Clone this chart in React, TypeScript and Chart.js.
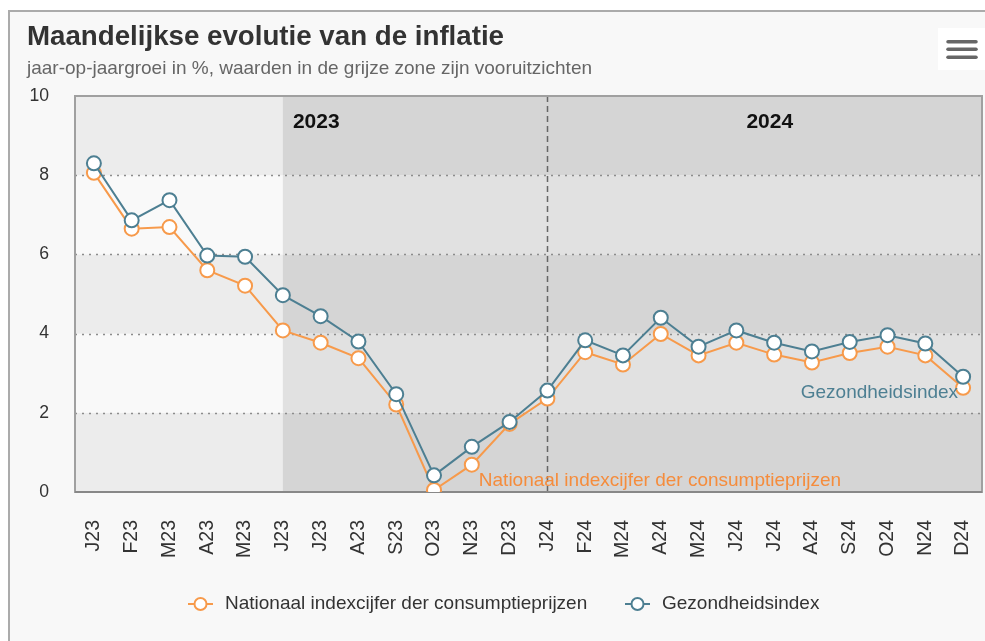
import React, { useEffect, useRef } from "react";
import { Chart, registerables } from "chart.js";

Chart.register(...registerables);

const categories = ["J23", "F23", "M23", "A23", "M23", "J23", "J23", "A23", "S23", "O23", "N23", "D23", "J24", "F24", "M24", "A24", "M24", "J24", "J24", "A24", "S24", "O24", "N24", "D24"];
const nationaalIndex = [8.06, 6.65, 6.69, 5.6, 5.21, 4.08, 3.77, 3.38, 2.21, 0.05, 0.69, 1.72, 2.36, 3.53, 3.22, 3.99, 3.45, 3.77, 3.47, 3.27, 3.51, 3.67, 3.45, 2.63];
const gezondheidsIndex = [8.3, 6.86, 7.37, 5.97, 5.94, 4.97, 4.44, 3.8, 2.47, 0.42, 1.14, 1.77, 2.56, 3.83, 3.45, 4.4, 3.67, 4.08, 3.77, 3.55, 3.79, 3.96, 3.75, 2.91];
const yTickValues = [0, 2, 4, 6, 8, 10];
const yearLabels = ["2023", "2024"];
const forecastStartIndex = 5;
const yearBreakIndex = 12;
const seriesNames = ["Nationaal indexcijfer der consumptieprijzen", "Gezondheidsindex"];
const titleText = "Maandelijkse evolutie van de inflatie";
const subtitleText = "jaar-op-jaargroei in %, waarden in de grijze zone zijn vooruitzichten";

const FONT = '"Liberation Sans", Arial, Helvetica, sans-serif';
const ORANGE = "#f79a4b";
const BLUE = "#4d7f92";

const decor = {
  id: "decor",
  beforeDraw(chart: any) {
    const { ctx, width, height } = chart;
    ctx.save();
    ctx.fillStyle = "#f8f8f8";
    ctx.fillRect(0, 0, width, height);
    ctx.restore();
  },
  beforeDatasetsDraw(chart: any) {
    const { ctx, chartArea: a, scales } = chart;
    const x = scales.x;
    const y = scales.y;
    const split = x.getPixelForValue(forecastStartIndex);
    ctx.save();
    for (let k = 0; k < 5; k++) {
      const lo = k * 2;
      const hi = lo + 2;
      const yTop = y.getPixelForValue(hi);
      const yBot = y.getPixelForValue(lo);
      const dark = k % 2 === 0;
      ctx.fillStyle = dark ? "#ececec" : "#f9f9f9";
      ctx.fillRect(a.left, yTop, split - a.left, yBot - yTop);
      ctx.fillStyle = dark ? "#d5d5d5" : "#e1e1e1";
      ctx.fillRect(split, yTop, a.right - split, yBot - yTop);
    }
    // dotted grid lines
    ctx.strokeStyle = "#8c8c8c";
    ctx.lineWidth = 1.5;
    ctx.setLineDash([2, 5]);
    for (const v of [2, 4, 6, 8]) {
      const py = Math.round(y.getPixelForValue(v)) + 0.5;
      ctx.beginPath();
      ctx.moveTo(a.left, py);
      ctx.lineTo(a.right, py);
      ctx.stroke();
    }
    // dashed year separator
    ctx.strokeStyle = "#666666";
    ctx.lineWidth = 1.5;
    ctx.setLineDash([6, 4]);
    const vx = Math.round(x.getPixelForValue(yearBreakIndex)) + 0.5;
    ctx.beginPath();
    ctx.moveTo(vx, a.top);
    ctx.lineTo(vx, a.bottom);
    ctx.stroke();
    ctx.setLineDash([]);
    // plot border
    ctx.strokeStyle = "#a0a0a0";
    ctx.lineWidth = 2;
    ctx.strokeRect(a.left, a.top, a.right - a.left, a.bottom - a.top);
    ctx.strokeStyle = "#888888";
    ctx.beginPath();
    ctx.moveTo(a.left, a.bottom);
    ctx.lineTo(a.right, a.bottom);
    ctx.stroke();
    // year labels
    ctx.fillStyle = "#111111";
    ctx.font = "bold 21px " + FONT;
    ctx.textAlign = "center";
    ctx.textBaseline = "middle";
    const c1 = (a.left + vx) / 2 + 5;
    const c2 = (vx + a.right) / 2 + 5;
    ctx.fillText(yearLabels[0], c1, a.top + 26);
    ctx.fillText(yearLabels[1], c2, a.top + 26);
    ctx.restore();
  },
  afterDatasetsDraw(chart: any) {
    const { ctx, scales } = chart;
    const x = scales.x;
    const y = scales.y;
    ctx.save();
    ctx.font = "19px " + FONT;
    ctx.textBaseline = "middle";
    ctx.fillStyle = BLUE;
    ctx.textAlign = "right";
    ctx.fillText(seriesNames[1], x.getPixelForValue(23) - 5, y.getPixelForValue(2.51));
    ctx.fillStyle = "#f58c3c";
    ctx.textAlign = "left";
    ctx.fillText(seriesNames[0], x.getPixelForValue(10) + 7, y.getPixelForValue(0.29));
    ctx.restore();
  },
  afterDraw(chart: any) {
    const { ctx } = chart;
    ctx.save();
    // title
    ctx.fillStyle = "#333333";
    ctx.font = "bold 27.7px " + FONT;
    ctx.textAlign = "left";
    ctx.textBaseline = "alphabetic";
    ctx.fillText(titleText, 17, 33);
    ctx.fillStyle = "#666666";
    ctx.font = "19px " + FONT;
    ctx.fillText(subtitleText, 17, 62);
    // legend
    const ly = 592;
    const items = [
      { color: ORANGE, x0: 178, text: seriesNames[0] },
      { color: BLUE, x0: 615, text: seriesNames[1] },
    ];
    for (const it of items) {
      ctx.strokeStyle = it.color;
      ctx.lineWidth = 2;
      ctx.beginPath();
      ctx.moveTo(it.x0, ly);
      ctx.lineTo(it.x0 + 25, ly);
      ctx.stroke();
      ctx.beginPath();
      ctx.arc(it.x0 + 12.5, ly, 6, 0, Math.PI * 2);
      ctx.fillStyle = "#ffffff";
      ctx.fill();
      ctx.stroke();
      ctx.fillStyle = "#333333";
      ctx.font = "19px " + FONT;
      ctx.textBaseline = "middle";
      ctx.fillText(it.text, it.x0 + 37, ly);
    }
    // menu button
    ctx.fillStyle = "#ffffff";
    ctx.fillRect(928, 16, 60, 42);
    ctx.strokeStyle = "#666666";
    ctx.lineWidth = 3.5;
    ctx.lineCap = "round";
    for (const yy of [29.7, 37.3, 45.3]) {
      ctx.beginPath();
      ctx.moveTo(938, yy);
      ctx.lineTo(966, yy);
      ctx.stroke();
    }
    ctx.restore();
  },
};

export default function App() {
  const ref = useRef<HTMLCanvasElement | null>(null);
  useEffect(() => {
    if (!ref.current) return;
    const chart = new Chart(ref.current, {
      type: "line",
      data: {
        labels: categories,
        datasets: [
          {
            label: seriesNames[1],
            data: gezondheidsIndex,
            borderColor: BLUE,
            backgroundColor: "#ffffff",
            pointBackgroundColor: "#ffffff",
            pointBorderColor: BLUE,
            pointRadius: 7,
            pointBorderWidth: 2,
            borderWidth: 2,
            tension: 0,
            order: 0,
          },
          {
            label: seriesNames[0],
            data: nationaalIndex,
            borderColor: ORANGE,
            backgroundColor: "#ffffff",
            pointBackgroundColor: "#ffffff",
            pointBorderColor: ORANGE,
            pointRadius: 7,
            pointBorderWidth: 2,
            borderWidth: 2,
            tension: 0,
            order: 1,
          },
        ],
      },
      options: {
        responsive: false,
        animation: false,
        devicePixelRatio: 1,
        layout: { padding: { top: 84, right: 0, left: 0, bottom: 0 } },
        plugins: {
          legend: { display: false },
          tooltip: { enabled: false },
          title: { display: false },
        },
        scales: {
          x: {
            type: "category",
            offset: true,
            grid: { display: false, drawTicks: false },
            border: { display: false },
            ticks: {
              autoSkip: false,
              minRotation: 90,
              maxRotation: 90,
              padding: 28,
              color: "#333333",
              font: { family: FONT, size: 19.5 },
            },
            afterFit(scale: any) {
              scale.height = 149;
              scale.paddingLeft = 0;
              scale.paddingRight = 0;
            },
          },
          y: {
            min: 0,
            max: 10,
            afterBuildTicks(scale: any) {
              scale.ticks = yTickValues.map((v) => ({ value: v }));
            },
            grid: { display: false, drawTicks: false },
            border: { display: false },
            ticks: {
              padding: 26,
              color: "#333333",
              font: { family: FONT, size: 17.6 },
            },
            afterFit(scale: any) {
              scale.width = 65;
              scale.paddingTop = 0;
              scale.paddingBottom = 0;
            },
          },
        },
      },
      plugins: [decor],
    });
    return () => chart.destroy();
  }, []);
  return (
    <div
      style={{
        position: "fixed",
        left: 8,
        top: 10,
        width: 1000,
        height: 700,
        border: "2px solid #ababab",
        background: "#f8f8f8",
        overflow: "hidden",
      }}
    >
      <canvas ref={ref} width={981} height={629} style={{ display: "block", width: 981, height: 629 }} />
    </div>
  );
}
